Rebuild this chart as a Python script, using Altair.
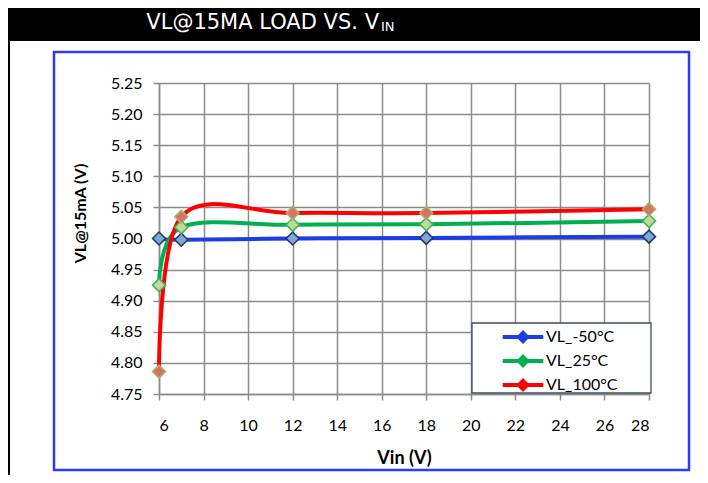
import altair as alt
import pandas as pd

# ---- data ----
vin = [6, 7, 12, 18, 28]
vl_m50 = [5.000, 4.998, 5.000, 5.001, 5.003]
vl_25 = [4.925, 5.018, 5.022, 5.023, 5.028]
vl_100 = [4.786, 5.035, 5.041, 5.041, 5.047]
series_names = ["VL_-50°C", "VL_25°C", "VL_100°C"]
line_colors = ["#1c3ce6", "#00b050", "#ff0000"]
marker_fills = ["#7fa6dc", "#c3d79b", "#de6f6f"]
marker_strokes = ["#1f3a5f", "#3cb35a", "#9bbb59"]
x_ticks = [6, 8, 10, 12, 14, 16, 18, 20, 22, 24, 26, 28]
y_ticks = [4.75, 4.80, 4.85, 4.90, 4.95, 5.00, 5.05, 5.10, 5.15, 5.20, 5.25]
banner_text = "VL@15MA LOAD VS. V"
banner_sub = "IN"

rows = []
for name, vals, f, s in zip(series_names, [vl_m50, vl_25, vl_100], marker_fills, marker_strokes):
    for x, y in zip(vin, vals):
        rows.append({"series": name, "vin": x, "vl": y, "mfill": f, "mstroke": s})
df = pd.DataFrame(rows)
one = pd.DataFrame({"d": [0]})

W, H = 490, 311
FONT = "Lato"

x_enc = alt.X(
    "vin:Q",
    scale=alt.Scale(domain=[6, 28], nice=False, zero=False),
    axis=alt.Axis(values=x_ticks, title="Vin (V)", labelPadding=17,
                  titleFontSize=18, titleFontWeight="bold", titleY=64,
                  titleBaseline="middle"),
)
y_enc = alt.Y(
    "vl:Q",
    scale=alt.Scale(domain=[4.75, 5.25], nice=False, zero=False),
    axis=alt.Axis(values=y_ticks, format=".2f", title="VL@15mA (V)", labelPadding=11,
                  titleFontSize=16, titleFontWeight="bold", titleX=-79, titleY=130,
                  titleAngle=270, titleAlign="center", titleBaseline="middle"),
)
color_scale = alt.Scale(domain=series_names, range=line_colors)

legend_symbol = "M-2.9,-0.3H-0.7L0,-1L0.7,-0.3H2.9V0.3H0.7L0,1L-0.7,0.3H-2.9Z"
legend = alt.Legend(
    title=None, orient="none", legendX=356, legendY=246, padding=0,
    symbolType=legend_symbol, symbolSize=196, symbolStrokeWidth=0,
    symbolOpacity=1,
    labelOffset=15, labelFont=FONT, labelFontSize=16, labelColor="black",
    rowPadding=8, zindex=2,
)

lines = alt.Chart(df).mark_line(interpolate="cardinal", strokeWidth=4).encode(
    x=x_enc, y=y_enc,
    color=alt.Color("series:N", scale=color_scale, legend=legend, sort=series_names),
)
points_base = alt.Chart(df).mark_point(filled=True, shape="diamond", size=170, opacity=1).encode(
    x=x_enc, y=y_enc,
    color=alt.Color("series:N", scale=color_scale, legend=legend, sort=series_names),
)
points = alt.Chart(df).mark_point(filled=True, shape="diamond", size=170, opacity=1, strokeWidth=1.5).encode(
    x=x_enc, y=y_enc,
    fill=alt.Fill("mfill:N", scale=None),
    stroke=alt.Stroke("mstroke:N", scale=None),
)

banner = alt.Chart(one).mark_rect(color="black").encode(
    x=alt.value(-151), x2=alt.value(541), y=alt.value(-75), y2=alt.value(-42)
)
banner_t1 = alt.Chart(one).mark_text(
    text=banner_text, color="white", font="DejaVu Sans", fontSize=21,
    align="right", baseline="middle"
).encode(x=alt.value(220), y=alt.value(-60))
banner_t2 = alt.Chart(one).mark_text(
    text=banner_sub, color="white", font="DejaVu Sans", fontSize=13,
    align="left", baseline="middle"
).encode(x=alt.value(222), y=alt.value(-56))
frame = alt.Chart(one).mark_rect(filled=False, stroke="#2a3cff", strokeWidth=2.5).encode(
    x=alt.value(-105), x2=alt.value(530), y=alt.value(-31), y2=alt.value(387)
)
left_line = alt.Chart(one).mark_rule(color="black", strokeWidth=2).encode(
    x=alt.value(-150), y=alt.value(-42), y2=alt.value(392)
)
legend_box = alt.Chart(one).mark_rect(fill="white", stroke="#3e4c5c", strokeWidth=1.3).encode(
    x=alt.value(313), x2=alt.value(492), y=alt.value(240), y2=alt.value(310)
)

chart = alt.layer(
    legend_box, lines, points_base, points, frame, banner, banner_t1, banner_t2, left_line
).properties(
    width=W, height=H,
    autosize=alt.AutoSizeParams(type="none"),
    padding={"left": 151, "top": 75, "right": 51, "bottom": 81},
    background="white",
).configure_view(stroke=None).configure_axis(
    gridColor="#8c8c8c", gridWidth=1.5, domainColor="#8c8c8c", domainWidth=1.5,
    tickColor="#8c8c8c", tickWidth=1.5, tickSize=6,
    labelFont=FONT, labelFontSize=16, labelColor="black",
    titleFont=FONT, titleColor="black",
)

chart.save("out.html", embed_options={"renderer": "svg", "actions": False})
